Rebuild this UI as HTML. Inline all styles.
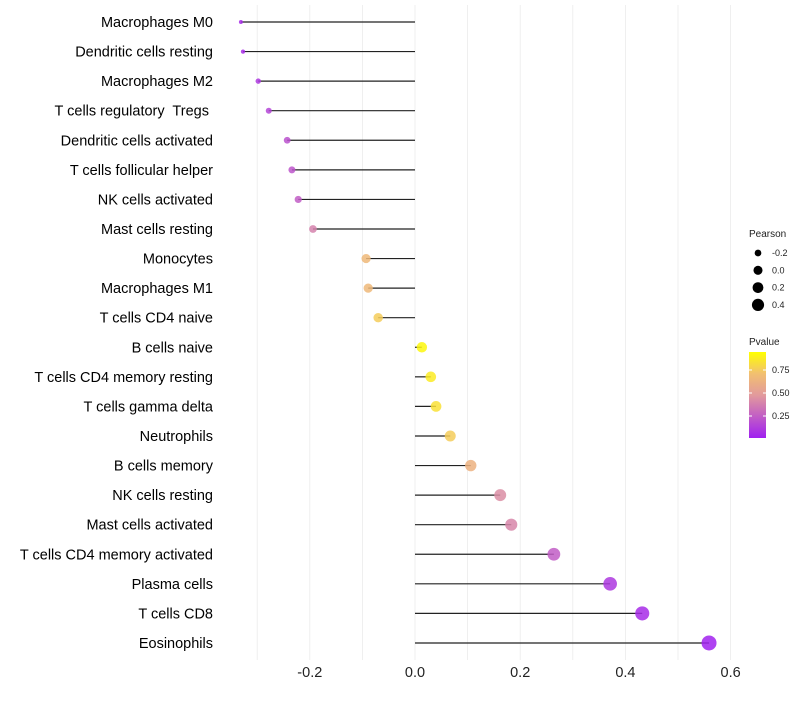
<!DOCTYPE html>
<html><head><meta charset="utf-8"><style>
body{margin:0;background:#fff;font-family:"Liberation Sans",sans-serif}
text{white-space:pre}
</style></head><body>
<svg id="chart" width="800" height="700" xmlns="http://www.w3.org/2000/svg">
<defs><linearGradient id="pg" x1="0" y1="1" x2="0" y2="0">
<stop offset="0" stop-color="#A020F0"/><stop offset="0.5" stop-color="#E29A9C"/><stop offset="0.75" stop-color="#F2C070"/><stop offset="1" stop-color="#FFFF00"/></linearGradient></defs>
<g id="grid"></g><g id="marks"></g><g id="labels"></g>
<g font-size="9" fill="#222">
<text x="749" y="237" font-size="10">Pearson</text>
<g id="sizeLegend"></g>
</g>
<g font-size="9" fill="#222">
<text x="749" y="345" font-size="10">Pvalue</text>
<rect x="749" y="352" width="17" height="86" fill="url(#pg)"/>
<line x1="749" y1="370" x2="752" y2="370" stroke="#fff"/><line x1="763" y1="370" x2="766" y2="370" stroke="#fff"/>
<line x1="749" y1="393" x2="752" y2="393" stroke="#fff"/><line x1="763" y1="393" x2="766" y2="393" stroke="#fff"/>
<line x1="749" y1="416" x2="752" y2="416" stroke="#fff"/><line x1="763" y1="416" x2="766" y2="416" stroke="#fff"/>
<text x="772" y="373">0.75</text><text x="772" y="396">0.50</text><text x="772" y="419">0.25</text>
</g>
</svg>
<script>
const categories=["Macrophages M0","Dendritic cells resting","Macrophages M2","T cells regulatory  Tregs ","Dendritic cells activated","T cells follicular helper","NK cells activated","Mast cells resting","Monocytes","Macrophages M1","T cells CD4 naive","B cells naive","T cells CD4 memory resting","T cells gamma delta","Neutrophils","B cells memory","NK cells resting","Mast cells activated","T cells CD4 memory activated","Plasma cells","T cells CD8","Eosinophils"];
const pearson=[-0.331,-0.327,-0.298,-0.278,-0.243,-0.234,-0.222,-0.194,-0.093,-0.089,-0.070,0.013,0.030,0.040,0.067,0.106,0.162,0.183,0.264,0.371,0.432,0.559];
const pvalue=[0.05,0.05,0.1,0.15,0.2,0.22,0.25,0.4,0.7,0.7,0.8,0.97,0.92,0.88,0.8,0.66,0.45,0.42,0.25,0.1,0.05,0.01];
const ticks=[-0.2,0,0.2,0.4,0.6];
const tickLabels=["-0.2","0.0","0.2","0.4","0.6"];
const sizeVals=[-0.2,0,0.2,0.4];
const NS="http://www.w3.org/2000/svg";
const x=v=>415+v*526;
const y=i=>22+i*29.57;
const r=v=>1.39+6.44*Math.sqrt(Math.max(0,v+0.34));
const stops=[[0,[160,32,240]],[0.5,[226,154,156]],[0.75,[242,192,112]],[1,[255,255,0]]];
function col(p){
 let k=0;while(k<stops.length-2&&p>stops[k+1][0])k++;
 const a=stops[k],b=stops[k+1];
 const t=(p-a[0])/(b[0]-a[0]);
 return "rgb("+a[1].map((c,j)=>Math.round(c+(b[1][j]-c)*t)).join(",")+")";
}
function mk(tag,attrs,parent){const e=document.createElementNS(NS,tag);for(const k in attrs)e.setAttribute(k,attrs[k]);parent.appendChild(e);return e;}
const grid=document.getElementById('grid'),marks=document.getElementById('marks'),labels=document.getElementById('labels');
for(let v=-0.3;v<=0.65;v+=0.1){
 const g=mk('line',{x1:x(v),x2:x(v),y1:5,y2:660,stroke:'#ebebeb','stroke-width':0.8},grid);
 
 
}
ticks.forEach((t,i)=>{
 const tx=mk('text',{x:x(t),y:677,'text-anchor':'middle','font-size':14.5,fill:'#222'},labels);
 tx.textContent=tickLabels[i];
 
 
});
categories.forEach((c,i)=>{
 const t=mk('text',{x:213,y:y(i)+5,'text-anchor':'end','font-size':14.5,fill:'#000'},labels);
 t.textContent=c;
 
 
 const l=mk('line',{x1:x(0),x2:x(pearson[i]),y1:y(i),y2:y(i),stroke:'#222','stroke-width':1.2},marks);
 
 
});
categories.forEach((c,i)=>{
 const d=mk('circle',{cx:x(pearson[i]),cy:y(i),r:r(pearson[i]),fill:col(pvalue[i]),'fill-opacity':0.85},marks);
 
 
});
const sl=document.getElementById('sizeLegend');
sizeVals.forEach((v,i)=>{
 const cy=253+i*17.3;
 const c=mk('circle',{cx:758,cy:cy,r:r(v)*0.88,fill:'#000'},sl);
 
 
 const t=mk('text',{x:772,y:cy+3},sl);
 t.textContent=v.toFixed(1);
 
 
});
</script>
</body></html>
